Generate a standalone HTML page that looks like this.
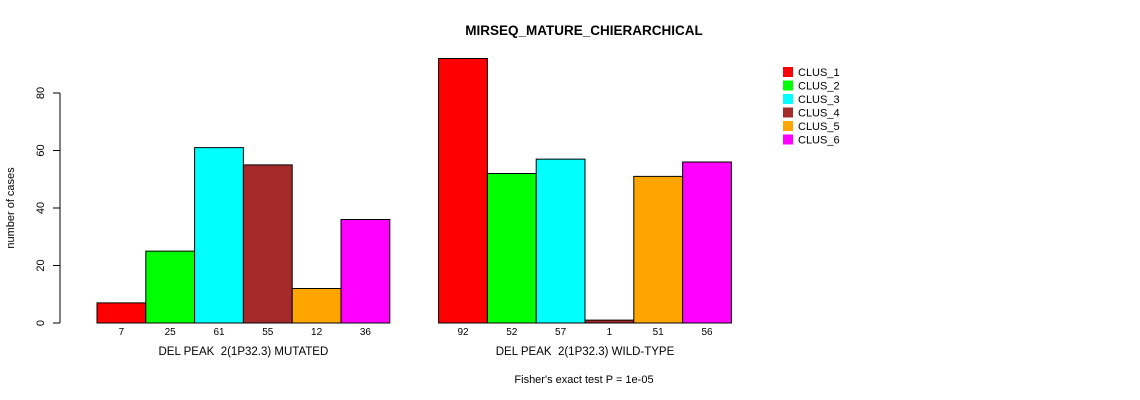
<!DOCTYPE html>
<html><head><meta charset="utf-8"><style>
body{margin:0;background:#fff;}
svg{display:block;font-family:"Liberation Sans",sans-serif;}
text{white-space:pre;}
</style></head><body>
<svg id="chart" width="1140" height="400">
<text x="584" y="35" text-anchor="middle" font-weight="bold" font-size="13.5">MIRSEQ_MATURE_CHIERARCHICAL</text>
<g id="axis"></g>
<g id="bars"></g>
<text transform="translate(14,208) rotate(-90)" text-anchor="middle" font-size="11">number of cases</text>
<text x="584" y="383" text-anchor="middle" font-size="11">Fisher's exact test P = 1e-05</text>
<g id="legend"></g>
</svg>
<script>
const groups = ["DEL PEAK  2(1P32.3) MUTATED", "DEL PEAK  2(1P32.3) WILD-TYPE"];
const clusters = ["CLUS_1","CLUS_2","CLUS_3","CLUS_4","CLUS_5","CLUS_6"];
const mutated = [7,25,61,55,12,36];
const wildtype = [92,52,57,1,51,56];
const yTicks = [0,20,40,60,80];
const colors = ["#ff0000","#00ff00","#00ffff","#a52a2a","#ffa500","#ff00ff"];
const NS="http://www.w3.org/2000/svg";
const y0=323, pxPer=2.875, x0=97, bw=48.8;
const yS=v=>y0-v*pxPer;
function mk(tag,attrs,parent){const e=document.createElementNS(NS,tag);for(const k in attrs)e.setAttribute(k,attrs[k]);parent.appendChild(e);return e;}
const ax=document.getElementById('axis');
mk('line',{x1:60,x2:60,y1:yS(0),y2:yS(80),stroke:'#000'},ax);
yTicks.forEach(t=>{
  const l=mk('line',{x1:53,x2:60,y1:yS(t),y2:yS(t),stroke:'#000'},ax);
  
  
  const tx=mk('text',{transform:`translate(44,${yS(t)}) rotate(-90)`,'text-anchor':'middle','font-size':'11'},ax);
  tx.textContent=t;
  
  
});
const bg=document.getElementById('bars');
[mutated,wildtype].forEach((vals,g)=>{
  const gx=x0+g*7*bw;
  vals.forEach((v,i)=>{
    const x=gx+i*bw;
    const r=mk('rect',{x:x,y:yS(v),width:bw,height:v*pxPer,fill:colors[i],stroke:'#000','stroke-width':1},bg);
    
    
    const t=mk('text',{x:x+bw/2,y:335,'text-anchor':'middle','font-size':'10'},bg);
    t.textContent=v;
    
    
  });
  const gl=mk('text',{x:gx+3*bw,y:355,'text-anchor':'middle','font-size':'11.5'},bg);
  gl.textContent=groups[g];
  
  
});
const lg=document.getElementById('legend');
clusters.forEach((c,i)=>{
  const y=67+i*13.5;
  const r=mk('rect',{x:783,y:y,width:10,height:10,fill:colors[i]},lg);
  
  
  const t=mk('text',{x:798,y:y+9,'font-size':'11'},lg);
  t.textContent=c;
  
  
});
</script>
</body></html>
